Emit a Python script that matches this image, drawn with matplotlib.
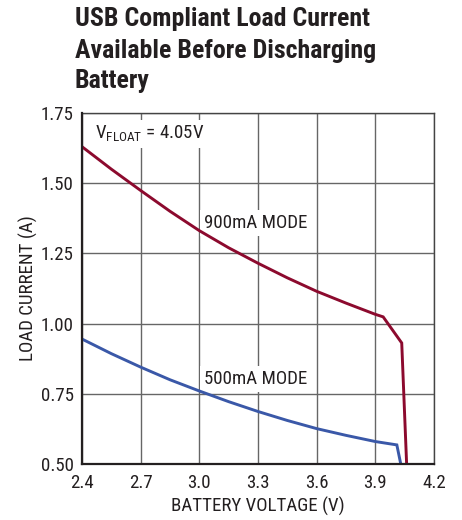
import matplotlib
matplotlib.use("Agg")
import matplotlib.pyplot as plt
from matplotlib import font_manager as fm

def find_font(bold):
    cands = []
    for f in fm.fontManager.ttflist:
        p = f.fname.lower()
        if ("condensed" in p or "narrow" in p) and "italic" not in p and "oblique" not in p:
            isbold = ("bold" in p) and ("semibold" not in p) and ("extrabold" not in p)
            isreg = not any(k in p for k in ["bold", "light", "thin", "medium", "black", "semi", "extra"])
            if (bold and isbold) or ((not bold) and isreg):
                rank = 9
                for i, key in enumerate(["liberationsansnarrow", "roboto", "notosans", "opensans", "dejavusans"]):
                    if key in p.replace("-", "").replace("_", ""):
                        rank = i
                        break
                cands.append((rank, f.fname))
    cands.sort()
    if cands:
        return fm.FontProperties(fname=cands[0][1])
    return fm.FontProperties(family="DejaVu Sans", weight="bold" if bold else "normal")

FP_REG = find_font(False)
FP_BOLD = find_font(True)

# data
v_900 = [2.4, 2.55, 2.7, 2.85, 3.0, 3.15, 3.3, 3.45, 3.6, 3.75, 3.9, 3.94, 4.035, 4.06]
i_900 = [1.63, 1.55, 1.474, 1.40, 1.331, 1.27, 1.215, 1.163, 1.115, 1.073, 1.033, 1.024, 0.931, 0.50]
v_500 = [2.4, 2.55, 2.7, 2.85, 3.0, 3.15, 3.3, 3.45, 3.6, 3.75, 3.9, 4.01, 4.03]
i_500 = [0.945, 0.893, 0.845, 0.80, 0.76, 0.722, 0.687, 0.655, 0.626, 0.602, 0.58, 0.568, 0.50]
x_ticks = [2.4, 2.7, 3.0, 3.3, 3.6, 3.9, 4.2]
y_ticks = [0.50, 0.75, 1.00, 1.25, 1.50, 1.75]
title_lines = ["USB Compliant Load Current", "Available Before Discharging", "Battery"]

FS = 13.6
INK = "#231f20"

fig = plt.figure(figsize=(4.62, 5.2), dpi=100)
ax = fig.add_axes([82/462, 1-464/520, (434-82)/462, (464-113)/520])

ax.plot(v_900, i_900, color="#8C0A2E", lw=2.1, solid_joinstyle="miter", zorder=5)
ax.plot(v_500, i_500, color="#3A58A8", lw=2.1, solid_joinstyle="miter", zorder=5)

ax.set_xlim(2.4, 4.2)
ax.set_ylim(0.5, 1.75)
ax.set_xticks(x_ticks)
ax.set_yticks(y_ticks)
ax.set_xticklabels([f"{t:.1f}" for t in x_ticks], fontproperties=FP_REG, fontsize=FS)
ax.set_yticklabels([f"{t:.2f}" for t in y_ticks], fontproperties=FP_REG, fontsize=FS)
ax.grid(True, color="#666666", lw=1.0, zorder=1)
ax.tick_params(axis="x", length=0, pad=7, colors=INK)
ax.tick_params(axis="y", length=0, pad=6, colors=INK)
for s in ["top", "right"]:
    ax.spines[s].set_color("#444444")
    ax.spines[s].set_linewidth(1.0)
for s in ["left", "bottom"]:
    ax.spines[s].set_color(INK)
    ax.spines[s].set_linewidth(1.6)
    ax.spines[s].set_zorder(6)

ax.set_xlabel("BATTERY VOLTAGE (V)", fontproperties=FP_REG, fontsize=FS, labelpad=4, color=INK)
ax.set_ylabel("LOAD CURRENT (A)", fontproperties=FP_REG, fontsize=FS, labelpad=2, color=INK)

box = dict(facecolor="white", edgecolor="none", pad=3)
ax.text(2.465, 1.675, r"V$_{\mathregular{FLOAT}}$ = 4.05V", fontproperties=FP_REG, fontsize=FS,
        va="center", ha="left", bbox=box, zorder=4, color=INK)
ax.text(3.024, 1.358, "900mA MODE", fontproperties=FP_REG, fontsize=FS, va="center", ha="left",
        bbox=box, zorder=4, color=INK)
ax.text(3.024, 0.803, "500mA MODE", fontproperties=FP_REG, fontsize=FS, va="center", ha="left",
        bbox=box, zorder=4, color=INK)

for line, base in zip(title_lines, [26, 58, 87.5]):
    fig.text(75/462, 1-base/520, line, fontproperties=FP_BOLD, fontsize=18.6,
             ha="left", va="baseline", color=INK)

fig.savefig("out.png", dpi=100)
